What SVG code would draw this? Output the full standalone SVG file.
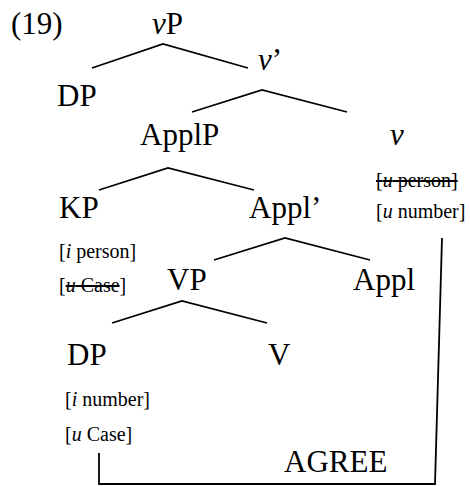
<svg xmlns="http://www.w3.org/2000/svg" width="470" height="486" viewBox="0 0 470 486">
<style>
text{font-family:"Liberation Serif","Times New Roman",serif;fill:#000}
.b{font-size:31px}
.f{font-size:20px}
.i{font-style:italic}
.s{text-decoration:line-through}
.ln{fill:none;stroke:#000;stroke-width:1.8}
</style>
<rect width="470" height="486" fill="#fff"/>
<text class="b" x="11" y="34">(19)</text>
<g id="vP"><text class="b" x="152" y="34"><tspan class="i">v</tspan>P</text></g>
<g id="vbar"><text class="b" x="258" y="70"><tspan class="i">v</tspan>’</text></g>
<g id="DP1"><text class="b" x="57" y="106">DP</text></g>
<g id="ApplP"><text class="b" x="140" y="145">ApplP</text></g>
<g id="v"><text class="b i" x="390" y="145">v</text>
<text class="f" x="376" y="187"><tspan class="s">[<tspan class="i">u</tspan> person]</tspan></text>
<text class="f" x="376" y="218">[<tspan class="i">u</tspan> number]</text></g>
<g id="KP"><text class="b" x="59" y="218">KP</text>
<text class="f" x="59" y="258">[<tspan class="i">i</tspan> person]</text>
<text class="f" x="59" y="292">[<tspan class="s"><tspan class="i">u</tspan> Case</tspan>]</text></g>
<g id="Applbar"><text class="b" x="249" y="218">Appl’</text></g>
<g id="VP"><text class="b" x="167" y="290">VP</text></g>
<g id="Appl"><text class="b" x="353" y="290">Appl</text></g>
<g id="DP2"><text class="b" x="67" y="365">DP</text>
<text class="f" x="65" y="406">[<tspan class="i">i</tspan> number]</text>
<text class="f" x="65" y="441">[<tspan class="i">u</tspan> Case]</text></g>
<g id="V"><text class="b" x="268" y="365">V</text></g>
<g id="agree"><text class="b" x="284" y="472">AGREE</text></g>
<g id="connectors">
<polyline class="ln" points="92,68 163,44 248,68"/>
<polyline class="ln" points="192,112 262,90 347,112"/>
<polyline class="ln" points="99,190 168,168 254,190"/>
<polyline class="ln" points="214,260 285,238 370,260"/>
<polyline class="ln" points="112,323 182,301 267,323"/>
<polyline class="ln" points="99,453 99,484 435,484 442,238"/>
</g>
</svg>
